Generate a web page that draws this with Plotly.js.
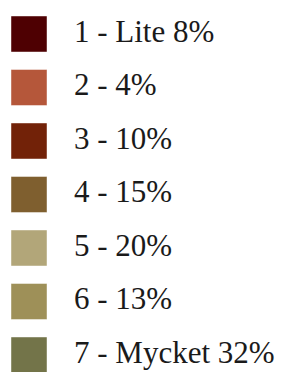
<!DOCTYPE html>
<html><head><meta charset="utf-8">
<script src="https://cdn.plot.ly/plotly-3.0.1.min.js"></script>
<style>html,body{margin:0;padding:0;background:#fff}#chart{width:283px;height:372px}</style>
</head><body><div id="chart"></div>
<script>
const levels = [1, 2, 3, 4, 5, 6, 7];
const names = ["Lite", "", "", "", "", "", "Mycket"];
const shares = [8, 4, 10, 15, 20, 13, 32];
const colors = ["#4e0002", "#b5573a", "#722208", "#7f5f2f", "#b2a679", "#9e9058", "#737449"];

const idx = levels.map((c, i) => i);
const labels = levels.map((l, i) => l + " - " + (names[i] ? names[i] + " " : "") + shares[i] + "%");

const data = [
  {type: "scatter", mode: "markers", x: idx.map(() => 29), y: idx,
   marker: {symbol: "square", size: 36, color: colors, line: {color: "rgba(255,255,255,0.45)", width: 1}},
   hoverinfo: "skip", showlegend: false},
  {type: "scatter", mode: "text", x: idx.map(() => 74), y: idx, text: labels,
   textposition: "middle right",
   textfont: {family: "'Liberation Serif', 'Times New Roman', serif", size: 31, color: "#1a1a1a"},
   hoverinfo: "skip", showlegend: false}
];
const layout = {
  width: 283, height: 372, margin: {l: 0, r: 0, t: 0, b: 0},
  paper_bgcolor: "#fff", plot_bgcolor: "#fff",
  xaxis: {range: [0, 283], visible: false, fixedrange: true},
  yaxis: {range: [6.318, -0.6355], visible: false, fixedrange: true},
  showlegend: false
};
Plotly.newPlot("chart", data, layout, {displayModeBar: false, staticPlot: true});
</script></body></html>
